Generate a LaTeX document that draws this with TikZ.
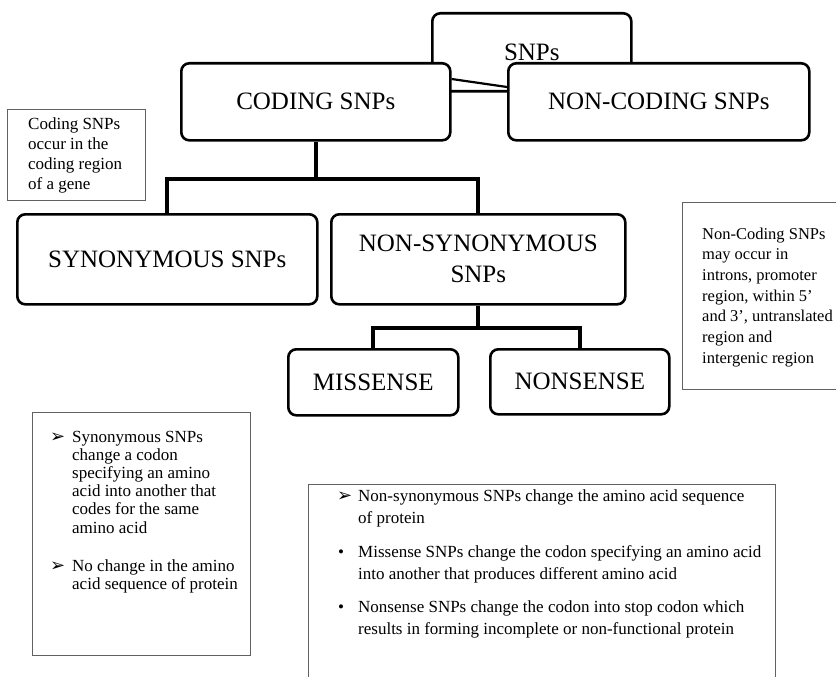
\documentclass[tikz,border=0pt]{standalone}
\usepackage{fontspec}
\setmainfont{Liberation Serif}
\newfontfamily\symfont{DejaVu Sans}
\usetikzlibrary{calc}
\begin{document}
\begin{tikzpicture}[x=1pt,y=-1pt,
  mainbox/.style={draw=black, line width=2.6pt, rounded corners=8pt, fill=white,
    align=center, font=\fontsize{25}{31}\selectfont, inner sep=0pt, anchor=north west},
  conn/.style={draw=black, line width=3.8pt},
  slantconn/.style={draw=black, line width=2.2pt},
  notebox/.style={draw=black!62, line width=1.3pt, fill=white, inner sep=0pt, anchor=north west},
  smalltext/.style={inner sep=0pt, align=left, anchor=base west},
  arrowbullet/.style={inner sep=0pt, anchor=base west, font=\symfont\fontsize{18}{18}\selectfont},
  dotbullet/.style={inner sep=0pt, anchor=base west, font=\fontsize{17}{17}\selectfont},
  ]
\useasboundingbox (0,0) rectangle (836,677);
\fill[white] (0,0) rectangle (836,677);

% top level
\node[mainbox, minimum width=199pt, minimum height=78pt] (snps) at (431,12) {SNPs};
\node[mainbox, minimum width=269pt, minimum height=77pt] (coding) at (180,62) {CODING SNPs};
\node[mainbox, minimum width=301pt, minimum height=77pt] (noncoding) at (507,62) {NON-CODING SNPs};
\draw[slantconn] ($(coding.north east)+(0,17)$) -- ($(noncoding.north west)+(0,25)$);

% second level
\node[mainbox, minimum width=300pt, minimum height=90pt] (syn) at (16,213) {SYNONYMOUS SNPs};
\node[mainbox, minimum width=294pt, minimum height=90pt] (nonsyn) at (330,213) {NON-SYNONYMOUS\\SNPs};
\coordinate (bar1) at ($(coding.south)+(0,37)$);
\draw[conn] (coding.south) -- (bar1);
\draw[conn] (syn.north) |- (bar1) -| (nonsyn.north);

% third level
\node[mainbox, minimum width=170pt, minimum height=66pt] (missense) at (287,348) {MISSENSE};
\node[mainbox, minimum width=179pt, minimum height=65pt] (nonsense) at (489,348) {NONSENSE};
\coordinate (bar2) at ($(nonsyn.south)+(0,22)$);
\draw[conn] (nonsyn.south) -- (bar2);
\draw[conn] (missense.north) |- (bar2) -| (nonsense.north);

% coding note
\node[notebox, minimum width=138pt, minimum height=91pt] (cnote) at (7,109) {};
\node[smalltext, font=\fontsize{17}{20}\selectfont] (cnotetext) at (28,189)
  {Coding SNPs\\occur in the\\coding region\\of a gene};

% non-coding note
\node[notebox, minimum width=170pt, minimum height=187pt] (ncnote) at (682,202) {};
\node[smalltext, font=\fontsize{16.5}{20.7}\selectfont] (ncnotetext) at (702,363.2)
  {Non-Coding SNPs\\may occur in\\introns, promoter\\region, within 5’\\and 3’, untranslated\\region and\\intergenic region};

% synonymous description
\node[notebox, minimum width=218pt, minimum height=243pt] (syndesc) at (32,412) {};
\node[arrowbullet] (sb1) at (50,442) {➢};
\node[smalltext, font=\fontsize{17}{18.2}\selectfont] (st1) at (72,533)
  {Synonymous SNPs\\change a codon\\specifying an amino\\acid into another that\\codes for the same\\amino acid};
\node[arrowbullet] (sb2) at (50,571) {➢};
\node[smalltext, font=\fontsize{17}{18.2}\selectfont] (st2) at (72,589.2)
  {No change in the amino\\acid sequence of protein};

% non-synonymous description
\node[notebox, minimum width=467pt, minimum height=230pt] (nsdesc) at (308,484) {};
\node[arrowbullet] (nb1) at (337,501) {➢};
\node[smalltext, font=\fontsize{17}{22}\selectfont] (nt1) at (358,523)
  {Non-synonymous SNPs change the amino acid sequence\\of protein};
\node[dotbullet] (nb2) at (338,557) {•};
\node[smalltext, font=\fontsize{17}{22}\selectfont] (nt2) at (358,579)
  {Missense SNPs change the codon specifying an amino acid\\into another that produces different amino acid};
\node[dotbullet] (nb3) at (338,612) {•};
\node[smalltext, font=\fontsize{17}{22}\selectfont] (nt3) at (358,634)
  {Nonsense SNPs change the codon into stop codon which\\results in forming incomplete or non-functional protein};
\end{tikzpicture}
\end{document}
